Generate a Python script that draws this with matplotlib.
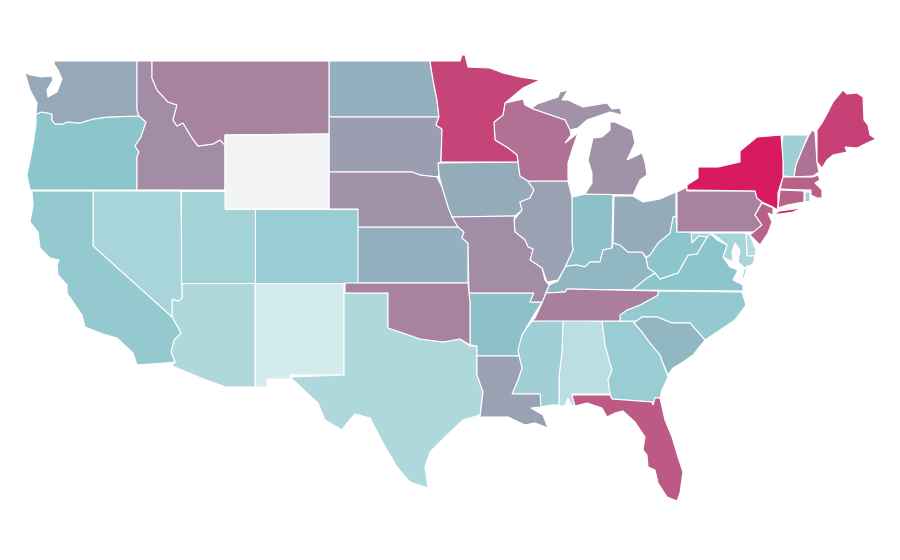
import numpy as np
import matplotlib
matplotlib.use("Agg")
import matplotlib.pyplot as plt
from matplotlib.colors import LinearSegmentedColormap
from matplotlib.patches import Polygon

STATES = ["NM","AL","AZ","TX","NV","UT","VT","MS","DE","RI","MD","GA","CO","NC","CA","VA","OR","WV",
          "IN","AR","SC","KY","ND","KS","OH","IA","WA","LA","IL","SD","MI","NE","MO","ID","MT","OK","PA",
          "TN","NH","WI","NJ","MA","CT","FL","ME","MN","NY","WY"]
VALUES = [0.0,0.10,0.14,0.14,0.17,0.19,0.21,0.21,0.12,0.21,0.17,0.24,0.24,0.27,0.27,0.31,0.31,0.31,
          0.33,0.33,0.37,0.37,0.40,0.40,0.42,0.42,0.43,0.46,0.46,0.47,0.52,0.52,0.54,0.54,0.58,0.58,0.58,
          0.60,0.65,0.65,0.72,0.72,0.72,0.75,0.85,0.83,1.0,np.nan]

COLOR_STOPS = [(0.0,"#d5ecee"),(0.14,"#aed8dc"),(0.31,"#8cc5cc"),(0.46,"#9aa1b3"),
               (0.58,"#a883a0"),(0.72,"#b86189"),(1.0,"#d81b60")]
NO_DATA = "#f3f4f6"

# State outlines, in the map's own x/y units
OUTLINES = {
 "WA":[[(54,61),(137,61),(137,110),(139,116),(108,117),(93,119),(80,123),(67,122),(63,124),(55,124),(52,120),(52,114),(42,112),(36,114),(37,103),(30,90),(25,73),(31,75),(42,77),(52,76),(53,80),(47,90),(48,97),(57,92),(62,79),(58,70),(54,64)]],
 "OR":[[(36,114),(42,112),(52,114),(52,120),(55,124),(63,124),(67,122),(80,123),(93,119),(108,117),(139,116),(146,122),(141,137),(135,146),(139,152),(137,157),(137,190),(30,190),(27,175),(33,145),(36,125)]],
 "CA":[[(32,191),(93,191),(93,246),(172,317),(181,333),(174,340),(171,352),(175,362),(165,363),(137,365),(133,353),(117,338),(103,334),(85,327),(82,315),(67,293),(67,285),(58,275),(57,265),(59,260),(50,258),(40,248),(38,232),(30,222),(33,205)]],
 "NV":[[(93,191),(181,191),(182,298),(178,301),(172,299),(172,317),(93,246)]],
 "UT":[[(181,191),(225,191),(225,209),(255,209),(255,283),(181,283)]],
 "AZ":[[(182,283),(255,283),(255,387),(226,387),(206,380),(172,366),(175,362),(171,352),(174,340),(181,333),(172,317),(172,299),(178,301),(182,298)]],
 "NM":[[(255,283),(344,283),(344,343),(344,375),(290,375),(291,379),(267,379),(267,387),(255,387)]],
 "TX":[[(344,293),(388,293),(388,328),(400,332),(420,339),(443,342),(460,339),(470,346),(477,346),(477,375),(483,392),(480,415),(463,420),(445,437),(430,452),(425,467),(428,488),(410,482),(397,467),(383,443),(370,418),(355,414),(347,423),(342,430),(325,420),(318,403),(307,393),(290,377),(344,375),(344,345)]],
 "MT":[[(152,61),(329,61),(329,134),(225,135),(225,145),(220,140),(213,144),(198,146),(192,138),(183,123),(177,126),(173,120),(177,105),(168,102),(157,90),(152,78)]],
 "ID":[[(137,61),(152,61),(152,78),(157,90),(168,102),(177,105),(173,120),(177,126),(183,123),(192,138),(198,146),(213,144),(220,140),(225,145),(225,190),(137,190),(137,157),(139,152),(135,146),(141,137),(146,122),(139,116),(137,110)]],
 "WY":[[(225,135),(329,134),(329,209),(225,209)]],
 "CO":[[(255,209),(358,209),(358,283),(255,283)]],
 "ND":[[(329,61),(430,61),(433,80),(437,100),(439,117),(329,117)]],
 "SD":[[(329,117),(439,117),(436,125),(442,129),(441,162),(438,163),(439,175),(437,177),(420,175),(412,172),(329,172)]],
 "NE":[[(329,172),(412,172),(420,175),(437,177),(442,187),(448,207),(452,217),(458,227),(358,227),(358,209),(329,209)]],
 "KS":[[(358,227),(458,227),(464,232),(462,238),(468,243),(468,283),(358,283)]],
 "OK":[[(345,283),(468,283),(470,303),(470,345),(460,339),(443,342),(420,339),(400,332),(388,328),(388,293),(345,293)]],
 "MN":[[(430,61),(460,61),(462,55),(465,55),(468,67),(490,68),(503,73),(520,77),(540,80),(523,88),(505,103),(503,115),(494,122),(495,140),(508,148),(517,155),(518,162),(441,162),(442,129),(436,125),(439,117),(437,100),(433,80)]],
 "IA":[[(440,163),(518,162),(520,176),(528,181),(534,190),(530,198),(520,202),(522,210),(515,216),(452,217),(448,207),(442,187),(439,175),(438,163)]],
 "MO":[[(452,217),(515,216),(514,220),(515,232),(525,240),(528,247),(533,249),(530,260),(542,268),(545,280),(549,285),(545,295),(543,302),(530,302),(534,293),(469,293),(468,243),(462,238),(464,232),(458,227)]],
 "AR":[[(469,293),(534,293),(530,302),(542,302),(532,318),(522,335),(518,350),(519,356),(477,356),(477,346),(470,345),(470,303)]],
 "LA":[[(477,356),(519,356),(522,368),(518,380),(512,394),(540,394),(541,407),(531,408),(543,415),(548,428),(535,423),(525,425),(508,417),(480,417),(483,392),(477,375)]],
 "MS":[[(540,407),(540,394),(512,394),(518,380),(522,368),(519,356),(518,347),(523,333),(532,321),(563,320),(562,352),(559,377),(559,405),(552,405)]],
 "AL":[[(563,320),(602,321),(605,345),(612,370),(608,380),(610,394),(572,394),(575,405),(572,406),(568,398),(565,406),(559,406),(559,377),(562,352)]],
 "GA":[[(602,321),(637,321),(634,323),(642,332),(650,343),(660,355),(663,363),(668,377),(662,390),(660,398),(655,398),(653,405),(652,402),(612,399),(610,394),(608,380),(612,370),(605,345)]],
 "FL":[[(572,395),(610,395),(612,399),(652,402),(653,405),(655,398),(660,398),(665,420),(672,437),(678,457),(683,472),(680,493),(677,501),(667,497),(658,483),(655,470),(648,467),(647,455),(643,450),(645,437),(635,422),(623,411),(615,413),(607,417),(602,408),(587,403),(575,406)]],
 "SC":[[(634,323),(642,317),(657,317),(672,323),(690,323),(705,340),(693,355),(683,362),(673,368),(668,375),(663,363),(660,355),(650,343),(642,332)]],
 "NC":[[(620,321),(620,315),(627,310),(640,305),(658,295),(658,291),(742,292),(746,305),(735,320),(720,330),(705,340),(690,323),(672,323),(657,317),(642,317),(634,323),(637,321)]],
 "TN":[[(535,318),(542,303),(546,293),(565,292),(567,289),(658,291),(658,295),(640,305),(627,310),(620,315),(620,321),(532,321)]],
 "KY":[[(546,293),(549,285),(558,281),(565,267),(567,266),(577,265),(585,267),(590,262),(600,262),(603,250),(612,248),(613,243),(620,245),(628,252),(642,252),(646,258),(648,268),(655,273),(647,278),(632,290),(567,289),(565,292)]],
 "IN":[[(573,197),(585,194),(613,194),(612,243),(612,248),(603,250),(600,262),(590,262),(585,267),(577,265),(567,266),(565,267),(573,250),(572,243),(572,197)]],
 "IL":[[(528,181),(568,181),(572,197),(572,243),(573,250),(565,267),(558,280),(547,282),(542,268),(530,260),(533,249),(528,247),(525,240),(515,232),(514,220),(522,210),(520,202),(530,198),(534,190)]],
 "WI":[[(505,103),(523,99),(525,105),(533,109),(565,120),(570,130),(571,135),(565,143),(578,133),(573,147),(568,163),(568,181),(528,181),(520,176),(518,162),(517,155),(508,148),(495,140),(494,122),(503,115)]],
 "MI":[[(532,108),(537,104),(558,97),(560,92),(568,90),(562,100),(568,100),(583,107),(607,103),(612,109),(620,108),(622,115),(610,112),(587,120),(578,128),(570,130),(565,120),(533,109)],
       [(610,122),(615,122),(632,130),(635,143),(627,160),(642,153),(645,162),(647,175),(640,180),(633,195),(585,194),(592,183),(592,173),(588,160),(593,138),(602,137),(610,130)]],
 "OH":[[(614,196),(633,196),(643,202),(660,199),(676,192),(676,216),(673,217),(670,233),(658,243),(650,255),(646,257),(642,252),(628,252),(620,245),(613,243)]],
 "PA":[[(677,192),(687,187),(687,191),(755,191),(757,198),(762,202),(755,215),(762,225),(755,232),(677,232)]],
 "NY":[[(687,190),(687,185),(698,178),(698,167),(718,167),(740,162),(740,151),(757,137),(781,135),(783,160),(783,177),(778,193),(778,205),(777,210),(773,207),(762,202),(757,198),(755,191)],
       [(773,214),(780,211),(802,208),(793,212),(780,214)]],
 "NJ":[[(762,203),(773,208),(773,215),(768,213),(772,222),(768,233),(760,245),(750,235),(762,225),(755,215)]],
 "VT":[[(783,135),(808,135),(803,148),(796,165),(794,177),(783,176),(783,162),(781,152)]],
 "NH":[[(808,137),(812,130),(815,132),(817,162),(819,172),(813,176),(794,177),(796,165),(803,148)]],
 "ME":[[(817,130),(822,123),(828,112),(833,102),(843,90),(847,94),(857,93),(863,97),(864,120),(868,125),(870,135),(876,139),(867,143),(857,148),(845,147),(847,152),(833,155),(827,160),(822,168),(817,162)]],
 "MA":[[(783,177),(813,177),(818,175),(820,180),(815,183),(822,190),(822,197),(830,196),(822,198),(817,198),(811,195),(811,190),(805,190),(780,189)]],
 "CT":[[(780,190),(804,191),(804,202),(787,205),(778,208)]],
 "RI":[[(805,192),(810,192),(810,201),(805,202)]],
 "DE":[[(746,233),(750,235),(756,250),(755,256),(747,256)]],
 "MD":[[(691,233),(746,233),(747,256),(755,256),(753,264),(745,268),(738,262),(740,250),(735,243),(732,252),(733,262),(723,257),(727,245),(717,237),(712,234),(707,238),(699,236),(692,243)]],
 "VA":[[(632,290),(647,278),(655,273),(660,279),(678,273),(688,255),(697,254),(707,237),(711,234),(717,240),(727,245),(723,257),(730,267),(738,270),(733,280),(743,285),(743,291)],
       [(748,265),(744,277),(741,282),(744,270)]],
 "WV":[[(646,258),(650,255),(658,243),(670,233),(673,217),(676,216),(677,232),(691,232),(692,243),(699,236),(707,237),(697,254),(688,255),(678,273),(660,279),(655,273),(648,268)]],
}

cmap = LinearSegmentedColormap.from_list("choropleth", COLOR_STOPS)
cmap.set_bad(NO_DATA)

fig = plt.figure(figsize=(9, 5.6), dpi=100)
ax = fig.add_axes([0, 0, 1, 1])
ax.set_xlim(0, 900)
ax.set_ylim(560, 0)
ax.axis("off")

for state, value in zip(STATES, VALUES):
    color = NO_DATA if np.isnan(value) else cmap(value)
    for ring in OUTLINES[state]:
        ax.add_patch(Polygon(ring, closed=True, facecolor=color, edgecolor="white", linewidth=0.8))

fig.savefig("out.png", dpi=100)
